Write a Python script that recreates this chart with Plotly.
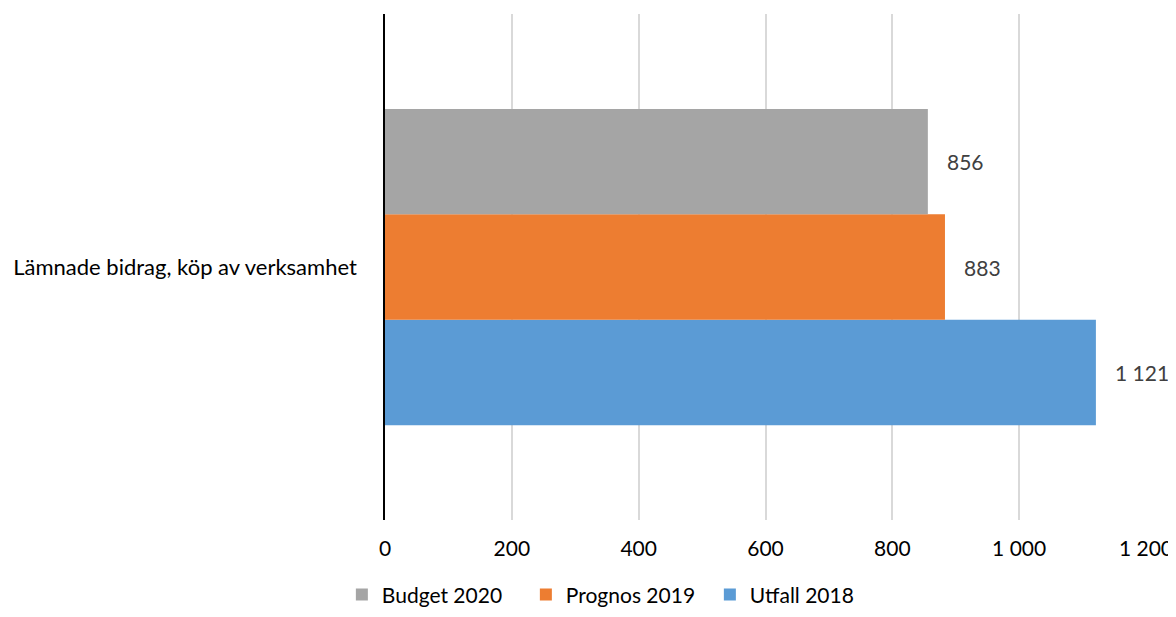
import plotly.graph_objects as go

category = ["Lämnade bidrag, köp av verksamhet"]

series_names = ["Utfall 2018", "Prognos 2019", "Budget 2020"]
series_values = [[1121], [883], [856]]
series_labels = [["1 121"], ["883"], ["856"]]
series_colors = ["#5B9BD5", "#ED7D31", "#A5A5A5"]

tick_vals = [0, 200, 400, 600, 800, 1000, 1200]
tick_text = ["0", "200", "400", "600", "800", "1 000", "1 200"]

FONT = "Lato, 'Open Sans', sans-serif"
SIZE = 21

fig = go.Figure()
for name, vals, labels, color in zip(series_names, series_values, series_labels, series_colors):
    fig.add_trace(
        go.Bar(
            y=category,
            x=vals,
            name=name,
            orientation="h",
            marker=dict(color=color, line=dict(width=0)),
            text=["\u00a0\u00a0\u00a0" + t for t in labels],
            textposition="outside",
            constraintext="none",
            cliponaxis=False,
            textfont=dict(family=FONT, size=SIZE, color="#404040"),
        )
    )

fig.update_layout(
    width=1168,
    height=601,
    barmode="group",
    bargap=0.375,
    bargroupgap=0,
    plot_bgcolor="white",
    paper_bgcolor="white",
    font=dict(family=FONT, size=SIZE, color="#000000"),
    margin=dict(l=377, r=30, t=6, b=89, autoexpand=False),
    xaxis=dict(
        range=[0, 1200],
        tickvals=tick_vals,
        ticktext=tick_text,
        showgrid=True,
        gridcolor="#D9D9D9",
        gridwidth=2,
        zeroline=False,
        showline=False,
        ticks="",
        ticklabelstandoff=14,
        ticklabeloverflow="allow",
        tickfont=dict(family=FONT, size=SIZE, color="#000000"),
        fixedrange=True,
    ),
    yaxis=dict(
        showline=True,
        linecolor="#000000",
        linewidth=1.5,
        showgrid=False,
        ticks="",
        ticklabelstandoff=22,
        tickfont=dict(family=FONT, size=22, color="#000000"),
        fixedrange=True,
    ),
    legend=dict(
        orientation="h",
        traceorder="reversed",
        x=0.306,
        xanchor="center",
        y=-0.148,
        yanchor="middle",
        font=dict(family=FONT, size=SIZE, color="#000000"),
        itemwidth=30,
        entrywidth=139,
    ),
    showlegend=True,
)

fig.write_html("out.html")
